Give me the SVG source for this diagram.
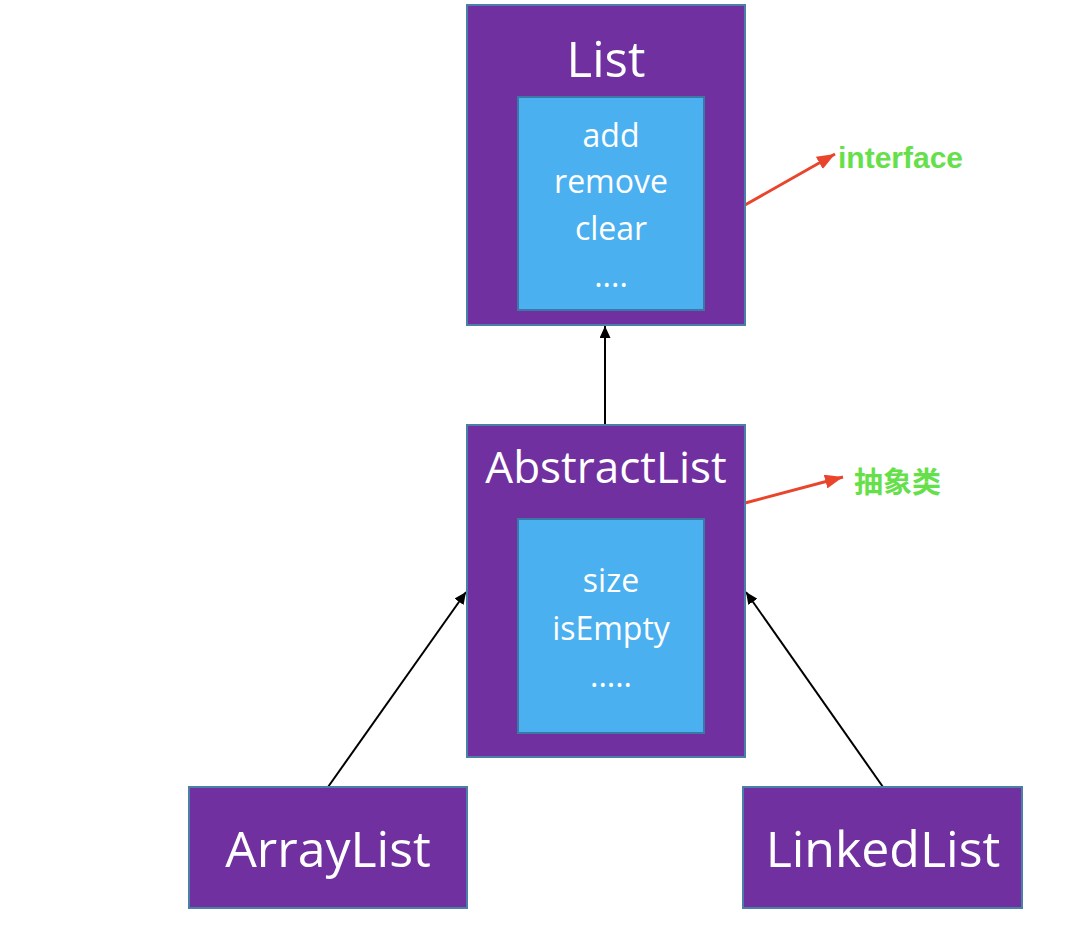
<svg xmlns="http://www.w3.org/2000/svg" width="1088" height="930" viewBox="0 0 1088 930">
  <style>
    .outer { fill: #7030a0; stroke: #4a7fa8; stroke-width: 2; }
    .inner { fill: #4bb0f0; stroke: #3a78a8; stroke-width: 2; }
    .t { font-family: "Open Sans", "Liberation Sans", sans-serif; fill: #ffffff; text-anchor: middle; }
    .conn { stroke: #000000; stroke-width: 2; fill: none; marker-end: url(#blk); }
    .note { stroke: #e8452c; stroke-width: 3; fill: none; marker-end: url(#red); }
    .lbl { font-family: "Liberation Sans", "Noto Sans CJK SC", sans-serif; font-weight: bold; fill: #66e04a; }
  </style>
  <defs>
    <marker id="blk" viewBox="0 0 12 11" refX="12" refY="5.5" markerWidth="12" markerHeight="11" markerUnits="userSpaceOnUse" orient="auto">
      <path d="M0,0 L12,5.5 L0,11 z" fill="#000000"/>
    </marker>
    <marker id="red" viewBox="0 0 18 14" refX="18" refY="7" markerWidth="18" markerHeight="14" markerUnits="userSpaceOnUse" orient="auto">
      <path d="M0,0 L18,7 L0,14 z" fill="#e8452c"/>
    </marker>
  </defs>
  <rect width="1088" height="930" fill="#ffffff"/>

  <g id="connectors">
    <line class="conn" x1="605" y1="425" x2="605" y2="326"/>
    <line class="conn" x1="328" y1="787" x2="466" y2="592"/>
    <line class="conn" x1="883" y1="787" x2="746" y2="592"/>
    <line class="note" x1="745" y1="205" x2="835" y2="154"/>
    <line class="note" x1="745" y1="503" x2="843" y2="477"/>
  </g>

  <g id="list">
    <rect class="outer" x="467" y="5" width="278" height="320"/>
    <text class="t" x="606" y="77" font-size="49">List</text>
    <rect class="inner" x="518" y="97" width="186" height="213"/>
    <text class="t" x="611" y="147" font-size="32">add</text>
    <text class="t" x="611" y="193" font-size="32">remove</text>
    <text class="t" x="611" y="240" font-size="32">clear</text>
    <text class="t" x="611" y="287" font-size="32">....</text>
  </g>

  <g id="abstractlist">
    <rect class="outer" x="467" y="425" width="278" height="332"/>
    <text class="t" x="606" y="483" font-size="44">AbstractList</text>
    <rect class="inner" x="518" y="519" width="186" height="214"/>
    <text class="t" x="611" y="592" font-size="32">size</text>
    <text class="t" x="611" y="640" font-size="32">isEmpty</text>
    <text class="t" x="611" y="687" font-size="32">.....</text>
  </g>

  <g id="arraylist">
    <rect class="outer" x="189" y="787" width="278" height="121"/>
    <text class="t" x="328" y="867" font-size="50">ArrayList</text>
  </g>

  <g id="linkedlist">
    <rect class="outer" x="743" y="787" width="279" height="121"/>
    <text class="t" x="883" y="867" font-size="50">LinkedList</text>
  </g>

  <g id="label-interface">
    <text class="lbl" x="838" y="168" font-size="30">interface</text>
  </g>
  <g id="label-abstract">
    <text class="lbl" x="854" y="493" font-size="29">抽象类</text>
  </g>
</svg>
